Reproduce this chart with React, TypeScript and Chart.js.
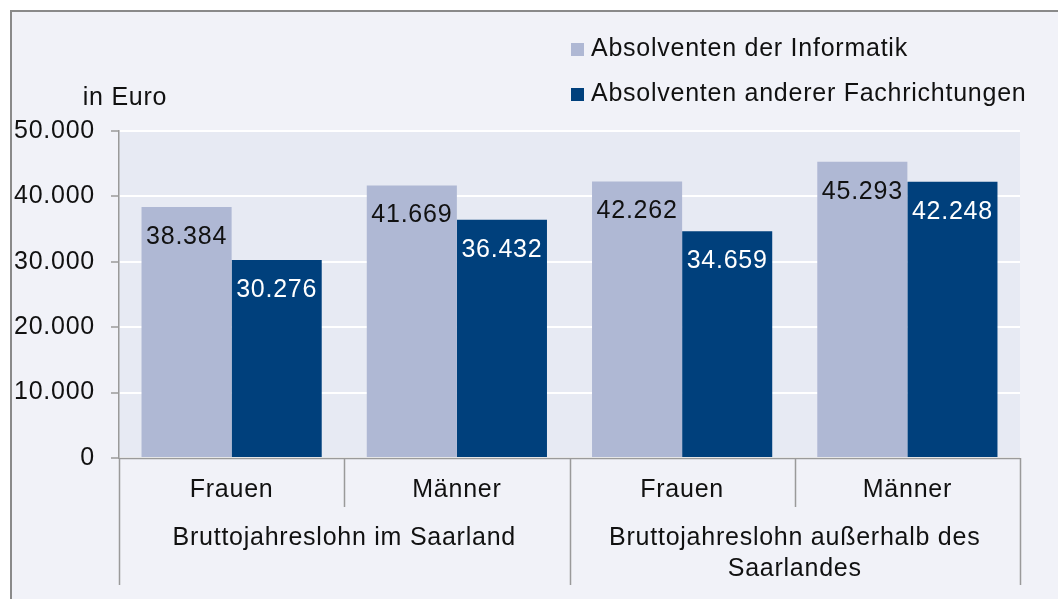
import React, { useEffect, useRef } from 'react';
import { Chart, registerables } from 'chart.js';

Chart.register(...registerables);

const categories = ['Frauen', 'Männer', 'Frauen', 'Männer'];
const groupLabels = [['Bruttojahreslohn im Saarland'], ['Bruttojahreslohn außerhalb des', 'Saarlandes']];
const seriesNames = ['Absolventen der Informatik', 'Absolventen anderer Fachrichtungen'];
const informatik = [38384, 41669, 42262, 45293];
const andere = [30276, 36432, 34659, 42248];
const yMin = 0;
const yMax = 50000;
const yStep = 10000;
const yUnit = 'in Euro';

const FONT = "'Liberation Sans', Arial, sans-serif";
const LIGHT = '#AFB8D4';
const DARK = '#00407C';
const OUTER_BG = '#F1F2F8';
const PLOT_BG = '#E7EAF3';
const AXIS = '#9A9A9A';
const SPACING = '0.75px';

const fmt = (n: number) => String(Math.round(n)).replace(/\B(?=(\d{3})+(?!\d))/g, '.');

const decorPlugin = {
  id: 'decor',
  beforeDraw(chart: any) {
    const { ctx, width, height, chartArea } = chart;
    ctx.save();
    ctx.fillStyle = '#ffffff';
    ctx.fillRect(0, 0, width, height);
    ctx.fillStyle = OUTER_BG;
    ctx.fillRect(10, 10, width - 10, height - 10);
    ctx.fillStyle = '#8A8A8A';
    ctx.fillRect(10, 10, 2, height - 10);
    ctx.fillRect(10, 10, width - 10, 2);
    ctx.fillStyle = PLOT_BG;
    ctx.fillRect(chartArea.left, chartArea.top, chartArea.right - chartArea.left, chartArea.bottom - chartArea.top);
    ctx.restore();
    ctx.letterSpacing = SPACING;
  },
  afterDraw(chart: any) {
    const { ctx, chartArea } = chart;
    const xs = chart.scales.x;
    const { left, right, bottom } = chartArea;
    ctx.save();
    ctx.letterSpacing = SPACING;
    // data labels
    ctx.font = `25px ${FONT}`;
    ctx.textAlign = 'center';
    ctx.textBaseline = 'middle';
    chart.data.datasets.forEach((ds: any, di: number) => {
      const meta = chart.getDatasetMeta(di);
      meta.data.forEach((el: any, i: number) => {
        ctx.fillStyle = di === 0 ? '#111111' : '#ffffff';
        ctx.fillText(fmt(ds.data[i]), el.x, el.y + 30);
      });
    });
    // x axis line
    ctx.strokeStyle = AXIS;
    ctx.lineWidth = 1.5;
    ctx.beginPath();
    ctx.moveTo(left, bottom + 0.5);
    ctx.lineTo(right, bottom + 0.5);
    ctx.stroke();
    // separators
    const n = categories.length;
    for (let i = 0; i <= n; i++) {
      let x: number;
      if (i === 0) x = left;
      else if (i === n) x = right;
      else x = (xs.getPixelForValue(i - 1) + xs.getPixelForValue(i)) / 2;
      const long = i % 2 === 0;
      ctx.beginPath();
      ctx.moveTo(Math.round(x) + 0.5, bottom);
      ctx.lineTo(Math.round(x) + 0.5, long ? bottom + 127 : bottom + 49);
      ctx.stroke();
    }
    // category labels
    ctx.fillStyle = '#111111';
    ctx.font = `25px ${FONT}`;
    categories.forEach((c, i) => {
      ctx.fillText(c, xs.getPixelForValue(i), bottom + 32);
    });
    // group labels
    groupLabels.forEach((lines, g) => {
      const cx = (xs.getPixelForValue(2 * g) + xs.getPixelForValue(2 * g + 1)) / 2;
      lines.forEach((line, li) => {
        ctx.fillText(line, cx, bottom + 80 + li * 31);
      });
    });
    // unit label
    ctx.fillText(yUnit, 125, 98);
    // legend
    ctx.textAlign = 'left';
    chart.data.datasets.forEach((ds: any, di: number) => {
      const y = 49 + di * 45;
      ctx.fillStyle = ds.backgroundColor;
      ctx.fillRect(571, y - 6, 13, 13);
      ctx.fillStyle = '#111111';
      ctx.fillText(ds.label, 591, y);
    });
    ctx.restore();
  },
};

export default function App() {
  const ref = useRef<HTMLCanvasElement>(null);
  useEffect(() => {
    if (!ref.current) return;
    const chart = new Chart(ref.current, {
      type: 'bar',
      data: {
        labels: categories,
        datasets: [
          { label: seriesNames[0], data: informatik, backgroundColor: LIGHT, categoryPercentage: 0.8, barPercentage: 1.0 },
          { label: seriesNames[1], data: andere, backgroundColor: DARK, categoryPercentage: 0.8, barPercentage: 1.0 },
        ],
      },
      options: {
        responsive: false,
        animation: false,
        devicePixelRatio: 1,
        layout: { padding: { top: 131, right: 38, bottom: 141, left: 0 } },
        plugins: { legend: { display: false }, tooltip: { enabled: false } },
        scales: {
          x: { display: false },
          y: {
            min: yMin,
            max: yMax,
            ticks: {
              stepSize: yStep,
              callback: (v: any) => fmt(Number(v)),
              color: '#111111',
              font: { size: 25, family: FONT },
              padding: 16,
            },
            grid: { color: '#ffffff', lineWidth: 2, tickColor: AXIS, tickLength: 8, tickWidth: 1.5 },
            border: { display: true, color: AXIS, width: 1.5 },
            afterFit: (s: any) => { s.width = 119; },
          },
        },
      },
      plugins: [decorPlugin],
    });
    return () => chart.destroy();
  }, []);
  return (
    <div style={{ position: 'fixed', left: 0, top: 0, width: 1058, height: 599 }}>
      <canvas ref={ref} width={1058} height={599} style={{ width: 1058, height: 599, display: 'block' }} />
    </div>
  );
}
